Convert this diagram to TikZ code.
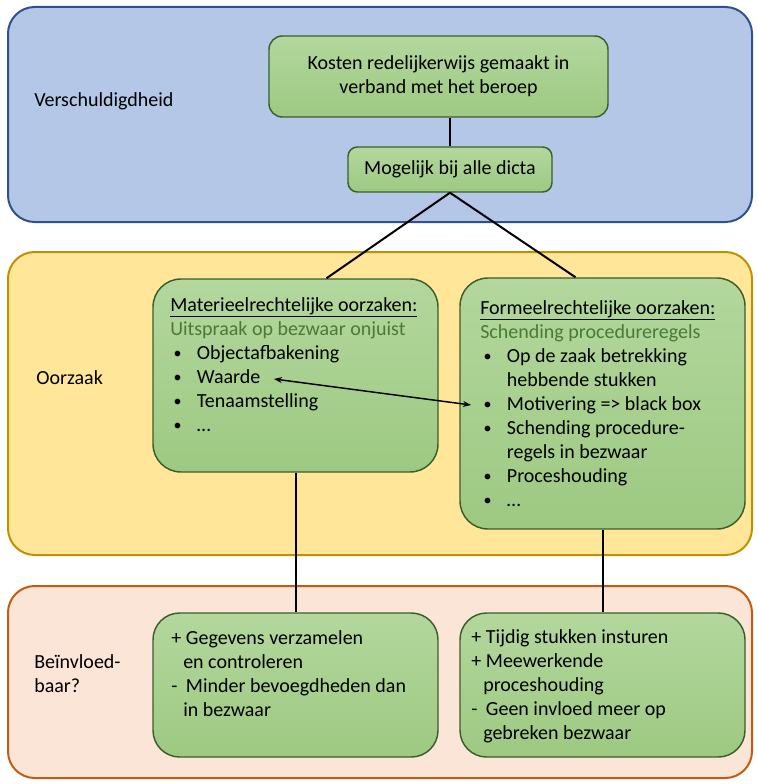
\documentclass[tikz,border=0pt]{standalone}
\usepackage{fontspec}
\setmainfont{Carlito}
\usepackage{tikz}
\usetikzlibrary{arrows.meta, calc}

\definecolor{blueFill}{HTML}{B4C7E7}
\definecolor{blueLine}{HTML}{2F528F}
\definecolor{yellowFill}{HTML}{FFE699}
\definecolor{yellowLine}{HTML}{BF9000}
\definecolor{orangeFill}{HTML}{FBE5D6}
\definecolor{orangeLine}{HTML}{C55A11}
\definecolor{greenTop}{HTML}{B3D79D}
\definecolor{greenBot}{HTML}{9DC982}
\definecolor{greenLine}{HTML}{3B5E2B}
\definecolor{subGreen}{HTML}{4A7A35}

% list lines
\newcommand{\dotmark}{\raisebox{0.5pt}{\fontsize{12}{12}\selectfont\textbullet}}
\newcommand{\itm}[1]{\strut\hspace*{2.5pt}\makebox[17.5pt][l]{\dotmark}#1}
\newcommand{\cnt}[1]{\strut\hspace*{20pt}#1}
\newcommand{\pls}[1]{\strut\makebox[11pt][l]{+}#1}
\newcommand{\mns}[1]{\strut\makebox[11pt][l]{-}#1}
\newcommand{\hng}[1]{\strut\hspace*{9pt}#1}

\begin{document}
\begin{tikzpicture}[
    x=0.75pt, y=-0.75pt,
    >=Stealth,
    font=\fontsize{15}{18}\selectfont,
    sz/.style 2 args={minimum width=#1*0.75pt, minimum height=#2*0.75pt},
    panel/.style={rectangle, rounded corners=20pt, line width=1.5pt, inner sep=0pt},
    bluepanel/.style={panel, fill=blueFill, draw=blueLine},
    yellowpanel/.style={panel, fill=yellowFill, draw=yellowLine},
    orangepanel/.style={panel, fill=orangeFill, draw=orangeLine},
    box/.style={rectangle, rounded corners=#1, draw=greenLine, line width=1.1pt,
                top color=greenTop, bottom color=greenBot, align=center, inner sep=0pt},
    box/.default=20pt,
    txt/.style={anchor=north west, inner sep=0pt, align=left},
    side/.style={anchor=west, inner sep=0pt, align=left},
    link/.style={line width=1.5pt, black},
    dbl/.style={<->, line width=1.1pt, black,
                >={Stealth[length=6pt, width=4.5pt]}},
]
\useasboundingbox (0,0) rectangle (757,784);

% === Panels ===

\node[bluepanel, sz={744}{215}] (schuld) at (380,114.5) {};
\node[yellowpanel, sz={744}{303}] (oorzaak) at (380,403.5) {};
\node[orangepanel, sz={744}{192}] (invloed) at (380,682) {};

\node[side] (lbl-schuld) at (34,101) {Verschuldigdheid};
\node[side] (lbl-oorzaak) at (36,378) {Oorzaak};
\node[txt] (lbl-invloed) at (34,651) {\strut Beïnvloed-\\\strut baar?};

% === Top ===

\node[box=10pt, sz={339}{81}] (kosten) at (438.5,76.5)
    {Kosten redelijkerwijs gemaakt in\\verband met het beroep};
\node[box=7pt, sz={204}{45}] (dicta) at (450,169.5) {Mogelijk bij alle dicta};

% === Causes ===

\node[box=21pt, sz={285}{193}] (mat) at (295.5,375.5) {};
\node[txt] (mat-txt) at (170,294) {%
    \strut\underline{Materieelrechtelijke oorzaken:}\\
    \strut\textcolor{subGreen}{Uitspraak op bezwaar onjuist}\\
    \itm{Objectafbakening}\\
    \itm{Waarde}\\
    \itm{Tenaamstelling}\\
    \itm{…}};

\node[box=21pt, sz={285}{251}] (form) at (602.5,403.5) {};
\node[txt] (form-txt) at (480,297) {%
    \strut\underline{Formeelrechtelijke oorzaken:}\\
    \strut\textcolor{subGreen}{Schending procedureregels}\\
    \itm{Op de zaak betrekking}\\
    \cnt{hebbende stukken}\\
    \itm{Motivering => black box}\\
    \itm{Schending procedure-}\\
    \cnt{regels in bezwaar}\\
    \itm{Proceshouding}\\
    \itm{…}};

% === Influence ===

\node[box=20pt, sz={285}{144}] (geg) at (295.5,685) {};
\node[txt] (geg-txt) at (171,627) {%
    \pls{Gegevens verzamelen}\\
    \hng{en controleren}\\
    \mns{Minder bevoegdheden dan}\\
    \hng{in bezwaar}};

\node[box=20pt, sz={285}{144}] (tijdig) at (602.5,685) {};
\node[txt] (tijdig-txt) at (471,626) {%
    \pls{Tijdig stukken insturen}\\
    \pls{Meewerkende}\\
    \hng{proceshouding}\\
    \mns{Geen invloed meer op}\\
    \hng{gebreken bezwaar}};

% === Connectors ===

\draw[link] (kosten.south -| dicta.north) -- (dicta.north);
\draw[link] (dicta.south) -- ($(mat.north)+(31,0)$);
\draw[link] (dicta.south) -- ($(form.north)+(-27,0)$);
\draw[link] (mat.south) -- (geg.north);
\draw[link] (form.south) -- (tijdig.north);

% Waarde <-> Motivering
\coordinate (waarde) at (274,379);
\coordinate (motiv) at (471,405);
\draw[dbl] (waarde) -- (motiv);

\end{tikzpicture}
\end{document}
